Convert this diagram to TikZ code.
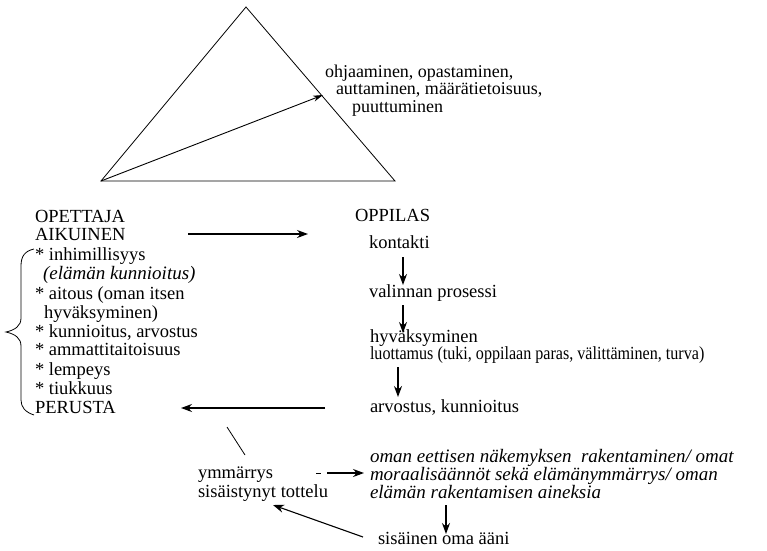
\documentclass[tikz,border=0pt]{standalone}
\usepackage{fontspec}
\setmainfont{Liberation Serif}
\usetikzlibrary{arrows.meta}
\begin{document}
\begin{tikzpicture}[x=1pt,y=-1pt,
  txt/.style={anchor=base west, inner sep=0pt, outer sep=0pt, font=\fontsize{18.5}{19}\selectfont},
  itxt/.style={txt, font=\fontsize{19}{18}\selectfont\itshape},
  arr/.style={line width=1.1pt, -{Stealth[length=11pt,width=8pt]}},
  edge/.style={line width=0.8pt}]
\useasboundingbox (0,0) rectangle (767,550);

% triangle with its inner arrow
\coordinate (apex) at (246,7);
\coordinate (bl) at (101,181);
\coordinate (br) at (395,181);
\coordinate (tip) at (323,95);
\draw[edge] (apex) -- (br) -- (bl) -- cycle;
\draw[line width=0.9pt, -{Stealth[length=10pt,width=6pt]}] (bl) -- (tip);

\node[txt, font=\fontsize{18}{18}\selectfont] (g1) at (325,77) {ohjaaminen, opastaminen,};
\node[txt, font=\fontsize{18}{18}\selectfont] (g2) at (336,94) {auttaminen, määrätietoisuus,};
\node[txt, font=\fontsize{18}{18}\selectfont] (g3) at (352,112) {puuttuminen};

% teacher column
\node[txt] (t1) at (35,222) {OPETTAJA};
\node[txt] (t2) at (35,240) {AIKUINEN};
\node[txt] (q1) at (35,260) {* inhimillisyys};
\node[itxt] (q2) at (43,279) {(elämän kunnioitus)};
\node[txt] (q3) at (35,299) {* aitous (oman itsen};
\node[txt] (q4) at (44,318) {hyväksyminen)};
\node[txt] (q5) at (35,337) {* kunnioitus, arvostus};
\node[txt] (q6) at (35,355) {* ammattitaitoisuus};
\node[txt] (q7) at (35,375) {* lempeys};
\node[txt] (q8) at (35,394) {* tiukkuus};
\node[txt] (t3) at (35,413) {PERUSTA};

% brace grouping the qualities
\draw[edge] (34,249) .. controls (25,251) and (21,256) .. (21,266) -- (21,318)
  .. controls (21,326) and (15,330) .. (6,332)
  .. controls (15,334) and (21,338) .. (21,346) -- (21,400)
  .. controls (21,407) and (25,412) .. (34,415);

% pupil column
\node[txt] (p0) at (355,221) {OPPILAS};
\node[txt] (p1) at (369,248) {kontakti};
\node[txt] (p2) at (369,297) {valinnan prosessi};
\node[txt] (p3) at (370,342) {hyväksyminen};
\node[txt] (p4) at (370,359) {\scalebox{0.87}[1]{luottamus (tuki, oppilaan paras, välittäminen, turva)}};
\node[txt] (p5) at (370,412) {arvostus, kunnioitus};

\draw[arr] (403,257) -- (403,285);
\draw[arr] (403,305) -- (403,333);
\draw[arr] (398,367) -- (398,397);

% horizontal arrows between the columns
\coordinate (h1a) at (188,234);
\coordinate (h1b) at (308,234);
\coordinate (h2a) at (325,408);
\coordinate (h2b) at (181,408);
\draw[arr] (h1a) -- (h1b);
\draw[arr] (h2a) -- (h2b);

% lower part
\coordinate (s1) at (227,427);
\coordinate (s2) at (245,455);
\draw[edge] (s1) -- (s2);

\node[txt] (y1) at (198,478) {ymmärrys};
\node[txt] (y2) at (198,497) {sisäistynyt tottelu};
\draw[edge, line width=1pt] (316,473) -- (321,473);
\coordinate (d1) at (327,473);
\coordinate (d2) at (364,473);
\draw[arr] (d1) -- (d2);

\node[itxt] (m1) at (370,462) {oman eettisen näkemyksen\ \ rakentaminen/ omat};
\node[itxt] (m2) at (370,480) {moraalisäännöt sekä elämänymmärrys/ oman};
\node[itxt] (m3) at (370,498) {elämän rakentamisen aineksia};

\draw[arr] (446,505) -- (446,534);
\node[txt] (v) at (378,544) {sisäinen oma ääni};
\draw[arr] (363,537) -- (273,505);
\end{tikzpicture}
\end{document}
